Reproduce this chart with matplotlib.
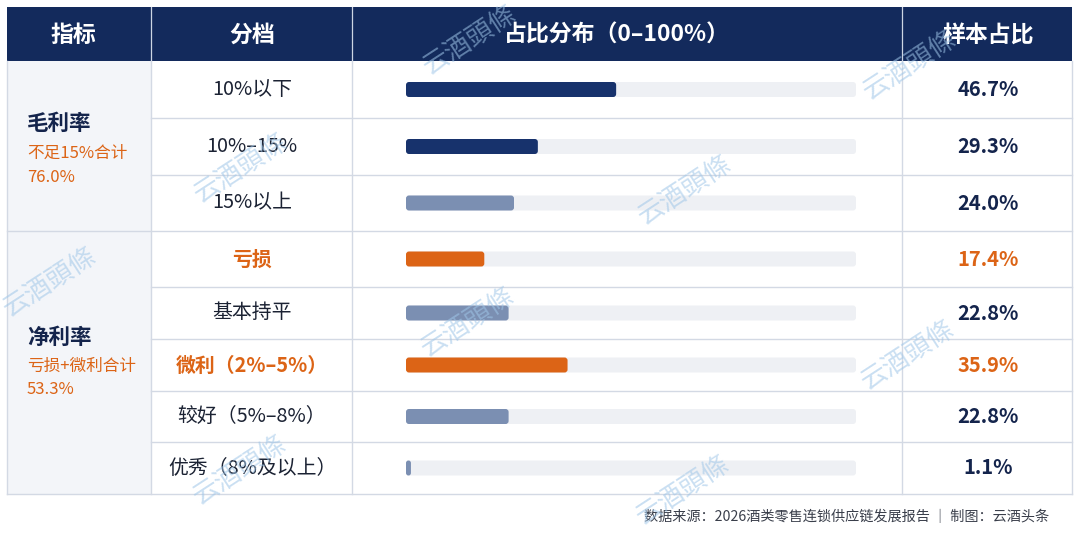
import matplotlib
matplotlib.use("Agg")
import matplotlib.pyplot as plt
from matplotlib.patches import Rectangle, FancyBboxPatch

plt.rcParams['font.family'] = ['Noto Sans CJK SC', 'DejaVu Sans']

# ---------------- data ----------------
headers = ['指标', '分档', '占比分布（0–100%）', '样本占比']
groups = ['毛利率', '净利率']
group_notes = ['不足15%合计', '亏损+微利合计']
group_totals = ['76.0%', '53.3%']
group_sizes = [3, 5]
tiers = ['10%以下', '10%–15%', '15%以上',
         '亏损', '基本持平', '微利（2%–5%）', '较好（5%–8%）', '优秀（8%及以上）']
shares = [46.7, 29.3, 24.0, 17.4, 22.8, 35.9, 22.8, 1.1]
tier_kind = ['dark', 'dark', 'light', 'warn', 'light', 'warn', 'light', 'light']
footer = '数据来源：2026酒类零售连锁供应链发展报告 ｜ 制图：云酒头条'
watermark = '云酒頭條'

# ---------------- style ----------------
W, H = 1080, 539
NAVY = '#132a5c'
DARK_BAR = '#17326c'
LIGHT_BAR = '#7b8fb2'
ORANGE = '#dc6416'
TRACK = '#eef0f4'
COL1_BG = '#f3f5f9'
GRID = '#d3d9e4'
TEXT = '#1b2233'
VAL = '#14244c'
bar_colors = {'dark': DARK_BAR, 'light': LIGHT_BAR, 'warn': ORANGE}

col_x = [7, 151, 352, 902, 1072]
head_top, head_bot = 7, 61
row_edges = [61, 118, 175, 231, 287, 339, 391, 442, 494]
row_centers = [(a + b) / 2 for a, b in zip(row_edges[:-1], row_edges[1:])]
track_x0, track_x1 = 406, 856
bar_h = 15

fig = plt.figure(figsize=(W / 100, H / 100), dpi=100)
fig.patch.set_facecolor('white')

ax = fig.add_axes([0, 0, 1, 1])
ax.set_xlim(0, W)
ax.set_ylim(H, 0)
ax.axis('off')

# header
ax.add_patch(Rectangle((col_x[0], head_top), col_x[-1] - col_x[0], head_bot - head_top,
                       fc=NAVY, ec='none', zorder=1))
for x in col_x[1:-1]:
    ax.plot([x, x], [head_top, head_bot], color='#cdd5e3', lw=0.9, zorder=2)
head_cx = [73, 252, 617, 988]
for t, cx in zip(headers, head_cx):
    ax.text(cx, (head_top + head_bot) / 2 + 1, t, color='white', fontsize=16.5,
            fontweight='bold', ha='center', va='center', zorder=3)

# first column background
ax.add_patch(Rectangle((col_x[0], head_bot), col_x[1] - col_x[0], row_edges[-1] - head_bot,
                       fc=COL1_BG, ec='none', zorder=1))

# grid lines
for i, y in enumerate(row_edges[1:-1], start=1):
    x0 = col_x[0] if i == group_sizes[0] else col_x[1]
    ax.plot([x0, col_x[-1]], [y, y], color=GRID, lw=1.0, zorder=2)
for x in col_x:
    ax.plot([x, x], [head_bot, row_edges[-1]], color=GRID, lw=1.0, zorder=2)
ax.plot([col_x[0], col_x[-1]], [row_edges[-1], row_edges[-1]], color=GRID, lw=1.0, zorder=2)

# group labels
group_label_y = [(123, 153, 177), (337, 366, 389)]
for g, (name, note, tot) in enumerate(zip(groups, group_notes, group_totals)):
    y1, y2, y3 = group_label_y[g]
    ax.text(27, y1, name, color=VAL, fontsize=15.5, fontweight='bold', ha='left', va='center', zorder=3)
    ax.text(27, y2, note, color=ORANGE, fontsize=12, fontweight='medium', ha='left', va='center', zorder=3)
    ax.text(27, y3, tot, color=ORANGE, fontsize=12, fontweight='medium', ha='left', va='center', zorder=3)

# tier labels and values
for t, v, k, cy in zip(tiers, shares, tier_kind, row_centers):
    warn = k == 'warn'
    ax.text(252, cy, t, color=ORANGE if warn else TEXT, fontsize=14.3,
            fontweight='bold' if warn else 'medium', ha='center', va='center', zorder=3)
    ax.text(988, cy, f'{v:.1f}%', color=ORANGE if warn else VAL, fontsize=14.5,
            fontweight='bold', ha='center', va='center', zorder=3)

# footer
ax.text(1049, 517, footer, color='#3a3f4b', fontsize=10.2, ha='right', va='center', zorder=3)

# ---------------- bars ----------------
bx = fig.add_axes([track_x0 / W, 1 - row_edges[-1] / H, (track_x1 - track_x0) / W,
                   (row_edges[-1] - row_edges[0]) / H])
bx.set_xlim(0, 100)
bx.set_ylim(row_edges[-1], row_edges[0])
bx.axis('off')
bx.patch.set_alpha(0)

xu_per_px = 100 / (track_x1 - track_x0)
r_px = 3.0


def round_bars(container, colors, z):
    for b, c in zip(container, colors):
        x, y, w, h = b.get_x(), b.get_y(), b.get_width(), b.get_height()
        b.remove()
        r = min(r_px * xu_per_px, w / 2)
        p = FancyBboxPatch((x, y), w, h, boxstyle=f'round,pad=0,rounding_size={r}',
                           mutation_aspect=1 / xu_per_px, fc=c, ec='none', zorder=z)
        bx.add_patch(p)


tracks = bx.barh(row_centers, [100] * len(shares), height=bar_h)
round_bars(tracks, [TRACK] * len(shares), 1)
bars = bx.barh(row_centers, shares, height=bar_h)
round_bars(bars, [bar_colors[k] for k in tier_kind], 2)

# ---------------- watermarks ----------------
wm_pos = [(470, 40), (241, 168), (685, 190), (50, 282), (468, 322),
          (908, 355), (240, 470), (683, 490), (910, 65)]
for x, y in wm_pos:
    fig.text(x / W, 1 - y / H, watermark, fontsize=19, color='#9fc6e8', alpha=0.55,
             rotation=33, ha='center', va='center', family=['Noto Sans CJK TC', 'DejaVu Sans'],
             fontweight='light', zorder=10)

fig.savefig('out.png', dpi=100, facecolor='white')
